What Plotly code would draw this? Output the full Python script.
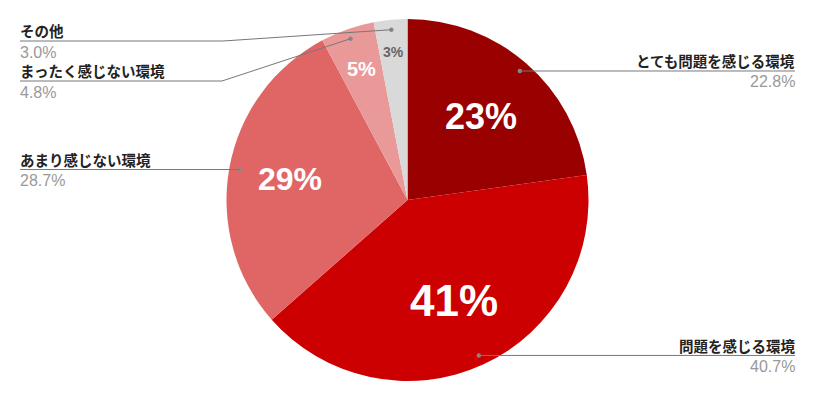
import math
import plotly.graph_objects as go

# ---- data ----
categories = ["とても問題を感じる環境", "問題を感じる環境", "あまり感じない環境", "まったく感じない環境", "その他"]
values = [22.8, 40.7, 28.7, 4.8, 3.0]
inner_labels = ["23%", "41%", "29%", "5%", "3%"]
value_labels = ["22.8%", "40.7%", "28.7%", "4.8%", "3.0%"]

# ---- styles ----
colors = ["#990000", "#cc0000", "#e06666", "#ea9999", "#d9d9d9"]
inner_sizes = [36, 44, 32, 20, 14]
inner_colors = ["#ffffff", "#ffffff", "#ffffff", "#ffffff", "#666666"]
inner_radius = [0.615, 0.61, 0.66, 0.77, 0.82]
label_side = ["right", "right", "left", "left", "left"]
label_line_y = [None, None, None, 81, 41]   # None -> horizontal from dot
elbow_x = [None, None, None, 222, 223]

W, H = 815, 401
CX, CY, R = 407.5, 200.0, 181.0
FONT_LAT = "Liberation Sans, Arial, Noto Sans CJK JP"
FONT_JP = "Noto Sans CJK JP, Liberation Sans"


def px(x):
    return x / W


def py(y):
    return 1 - y / H


fig = go.Figure(go.Pie(
    labels=categories, values=values, sort=False, direction="clockwise", rotation=0,
    marker=dict(colors=colors, line=dict(width=0)),
    textinfo="none", hoverinfo="label+percent", showlegend=False,
    domain=dict(x=[0, 1], y=[(H - CY - R) / H, (H - CY + R) / H]),
))

total = sum(values)
annotations = []
shapes = []
cum = 0.0
for i, v in enumerate(values):
    mid = (cum + v / 2) / total * 2 * math.pi
    cum += v
    sx, sy = math.sin(mid), -math.cos(mid)
    # inner label
    ix, iy = CX + sx * R * inner_radius[i], CY + sy * R * inner_radius[i]
    annotations.append(dict(
        x=px(ix), y=py(iy), xref="paper", yref="paper", text=f"<b>{inner_labels[i]}</b>",
        showarrow=False, xanchor="center", yanchor="middle",
        font=dict(family=FONT_LAT, size=inner_sizes[i], color=inner_colors[i])))
    # leader dot
    dx, dy = CX + sx * R * 0.945, CY + sy * R * 0.945
    shapes.append(dict(type="circle", xref="paper", yref="paper",
                       x0=px(dx - 2.2), x1=px(dx + 2.2), y0=py(dy - 2.2), y1=py(dy + 2.2),
                       fillcolor="#888888", line=dict(width=0)))
    ly = dy if label_line_y[i] is None else label_line_y[i]
    end_x = 795 if label_side[i] == "right" else 20
    if elbow_x[i] is not None:
        shapes.append(dict(type="line", xref="paper", yref="paper",
                           x0=px(dx), y0=py(dy), x1=px(elbow_x[i]), y1=py(ly),
                           line=dict(color="#777777", width=1)))
        start_x = elbow_x[i]
    else:
        start_x = dx
    shapes.append(dict(type="line", xref="paper", yref="paper",
                       x0=px(start_x), y0=py(ly), x1=px(end_x), y1=py(ly),
                       line=dict(color="#777777", width=1)))
    anchor = "right" if label_side[i] == "right" else "left"
    annotations.append(dict(
        x=px(end_x), y=py(ly - 10), xref="paper", yref="paper", text=f"<b>{categories[i]}</b>",
        showarrow=False, xanchor=anchor, yanchor="middle", xshift=(2 if anchor == "right" else -2),
        font=dict(family=FONT_JP, size=14.5, color="#222222")))
    annotations.append(dict(
        x=px(end_x), y=py(ly + 11), xref="paper", yref="paper", text=value_labels[i],
        showarrow=False, xanchor=anchor, yanchor="middle", xshift=(2 if anchor == "right" else -2),
        font=dict(family=FONT_LAT, size=16, color="#999999")))

fig.update_layout(
    width=W, height=H, margin=dict(l=0, r=0, t=0, b=0),
    paper_bgcolor="white", plot_bgcolor="white",
    annotations=annotations, shapes=shapes,
)

fig.write_html("out.html", config={"displayModeBar": False},
               post_script="document.body.style.margin='0';")
